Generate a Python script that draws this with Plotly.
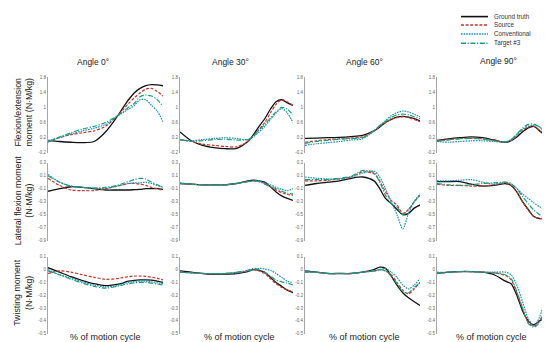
import plotly.graph_objects as go

# ---------------- data ----------------
X = [0, 10, 20, 30, 40, 50, 60, 65, 70, 75, 80, 85, 90, 95, 100]
series_names = ["Ground truth", "Source", "Conventional", "Target #3"]
angles = ["Angle 0°", "Angle 30°", "Angle 60°", "Angle 90°"]

# Row 1: Flexion/extension moment
flex_gt = [
    [0.13, 0.1, 0.08, 0.07, 0.1, 0.35, 0.75, 0.98, 1.2, 1.38, 1.5, 1.57, 1.6, 1.59, 1.57],
    [0.35, 0.12, 0.0, -0.06, -0.09, -0.08, 0.1, 0.28, 0.5, 0.7, 0.95, 1.15, 1.2, 1.12, 1.05],
    [0.18, 0.19, 0.2, 0.21, 0.23, 0.26, 0.38, 0.48, 0.6, 0.68, 0.74, 0.76, 0.74, 0.7, 0.64],
    [0.13, 0.17, 0.2, 0.22, 0.2, 0.14, 0.08, 0.12, 0.22, 0.35, 0.46, 0.5, 0.38, 0.25, 0.15],
]
flex_src = [
    [0.1, 0.2, 0.28, 0.33, 0.38, 0.5, 0.77, 0.93, 1.1, 1.25, 1.38, 1.48, 1.5, 1.42, 1.3],
    [0.15, 0.1, 0.03, 0.0, -0.03, -0.04, 0.1, 0.25, 0.42, 0.6, 0.85, 1.08, 1.2, 1.15, 1.05],
    [0.08, 0.12, 0.15, 0.17, 0.19, 0.22, 0.38, 0.5, 0.6, 0.68, 0.73, 0.75, 0.73, 0.68, 0.62],
    [0.12, 0.15, 0.18, 0.18, 0.17, 0.13, 0.08, 0.13, 0.25, 0.4, 0.48, 0.5, 0.4, 0.28, 0.18],
]
flex_conv = [
    [0.12, 0.2, 0.3, 0.38, 0.45, 0.55, 0.76, 0.86, 0.95, 1.05, 1.2, 1.2, 1.05, 0.9, 0.62],
    [0.15, 0.12, 0.15, 0.18, 0.2, 0.18, 0.15, 0.23, 0.35, 0.5, 0.68, 0.85, 0.97, 0.85, 0.6],
    [0.0, 0.04, 0.07, 0.1, 0.14, 0.17, 0.38, 0.52, 0.65, 0.78, 0.86, 0.9, 0.88, 0.82, 0.75],
    [0.1, 0.08, 0.1, 0.12, 0.12, 0.1, 0.09, 0.15, 0.28, 0.42, 0.5, 0.53, 0.48, 0.35, 0.2],
]
flex_tgt = [
    [0.08, 0.22, 0.33, 0.43, 0.5, 0.6, 0.77, 0.88, 1.0, 1.1, 1.28, 1.32, 1.3, 1.2, 1.03],
    [0.15, 0.1, 0.12, 0.15, 0.16, 0.14, 0.15, 0.25, 0.4, 0.55, 0.72, 0.88, 1.0, 0.95, 0.8],
    [0.05, 0.1, 0.13, 0.16, 0.18, 0.2, 0.38, 0.52, 0.63, 0.73, 0.8, 0.82, 0.8, 0.75, 0.7],
    [0.1, 0.14, 0.17, 0.18, 0.17, 0.12, 0.09, 0.15, 0.3, 0.45, 0.55, 0.56, 0.48, 0.33, 0.2],
]

# Row 2: Lateral flexion moment
lat_gt = [
    [-0.14, -0.1, -0.07, -0.08, -0.1, -0.12, -0.12, -0.12, -0.12, -0.115, -0.11, -0.1, -0.1, -0.1, -0.11],
    [-0.02, -0.03, -0.04, -0.04, -0.04, -0.02, 0.02, 0.03, 0.02, 0.0, -0.07, -0.15, -0.21, -0.25, -0.28],
    [-0.05, -0.02, 0.0, 0.02, 0.06, 0.08, 0.02, -0.1, -0.25, -0.33, -0.42, -0.5, -0.48, -0.4, -0.35],
    [0.01, 0.01, 0.01, -0.03, -0.06, -0.05, -0.02, -0.05, -0.15, -0.3, -0.42, -0.53, -0.56, -0.54, -0.47],
]
lat_src = [
    [0.06, -0.05, -0.12, -0.13, -0.13, -0.1, -0.06, -0.04, -0.02, -0.02, -0.03, -0.05, -0.08, -0.1, -0.13],
    [-0.02, -0.03, -0.04, -0.04, -0.04, -0.02, 0.01, 0.02, 0.01, -0.02, -0.07, -0.12, -0.16, -0.19, -0.2],
    [0.02, 0.02, 0.03, 0.05, 0.08, 0.16, 0.13, 0.02, -0.15, -0.28, -0.35, -0.48, -0.42, -0.3, -0.2],
    [-0.03, -0.05, -0.05, -0.06, -0.06, -0.04, -0.02, -0.05, -0.15, -0.3, -0.43, -0.53, -0.56, -0.55, -0.48],
]
lat_conv = [
    [0.12, 0.0, -0.06, -0.08, -0.09, -0.1, -0.06, -0.04, -0.02, -0.01, -0.01, 0.0, -0.02, -0.05, -0.08],
    [-0.01, -0.03, -0.04, -0.04, -0.04, -0.02, 0.01, 0.02, 0.02, -0.01, -0.04, -0.08, -0.11, -0.13, -0.1],
    [0.08, 0.06, 0.05, 0.05, 0.08, 0.14, 0.17, 0.08, -0.1, -0.3, -0.5, -0.72, -0.48, -0.3, -0.18],
    [0.02, 0.02, 0.03, 0.04, 0.0, -0.03, 0.0, -0.02, -0.1, -0.18, -0.25, -0.32, -0.38, -0.42, -0.43],
]
lat_tgt = [
    [0.1, 0.0, -0.06, -0.08, -0.09, -0.08, -0.05, -0.02, 0.01, 0.04, 0.06, 0.05, 0.0, -0.04, -0.08],
    [-0.02, -0.03, -0.04, -0.04, -0.04, -0.02, 0.01, 0.02, 0.01, -0.03, -0.07, -0.1, -0.14, -0.17, -0.18],
    [0.04, 0.04, 0.04, 0.06, 0.09, 0.18, 0.15, 0.0, -0.2, -0.33, -0.38, -0.5, -0.42, -0.3, -0.2],
    [-0.02, -0.04, -0.05, -0.04, -0.02, -0.01, 0.0, -0.03, -0.1, -0.22, -0.33, -0.43, -0.5, -0.55, -0.55],
]

# Row 3: Twisting moment
tw_gt = [
    [0.015, -0.02, -0.055, -0.085, -0.11, -0.125, -0.115, -0.105, -0.09, -0.083, -0.08, -0.08, -0.082, -0.09, -0.1],
    [-0.01, -0.02, -0.03, -0.035, -0.035, -0.03, -0.015, 0.0, -0.005, -0.02, -0.06, -0.1, -0.13, -0.16, -0.18],
    [-0.01, -0.02, -0.03, -0.03, -0.03, -0.02, 0.0, 0.02, 0.01, -0.05, -0.12, -0.18, -0.22, -0.25, -0.28],
    [-0.03, -0.02, -0.015, -0.015, -0.02, -0.04, -0.09, -0.11, -0.2, -0.32, -0.4, -0.43, -0.4, -0.38, -0.38],
]
tw_src = [
    [-0.03, -0.01, -0.02, -0.04, -0.06, -0.075, -0.07, -0.062, -0.055, -0.05, -0.05, -0.052, -0.058, -0.068, -0.08],
    [-0.02, -0.025, -0.03, -0.03, -0.03, -0.025, -0.01, 0.0, -0.01, -0.03, -0.07, -0.11, -0.14, -0.16, -0.17],
    [-0.02, -0.02, -0.03, -0.03, -0.03, -0.02, -0.01, 0.0, -0.01, -0.04, -0.1, -0.16, -0.19, -0.15, -0.1],
    [-0.03, -0.02, -0.015, -0.015, -0.02, -0.025, -0.045, -0.08, -0.18, -0.3, -0.41, -0.44, -0.4, -0.3, -0.18],
]
tw_conv = [
    [0.0, -0.04, -0.065, -0.095, -0.12, -0.135, -0.125, -0.11, -0.1, -0.092, -0.09, -0.09, -0.095, -0.102, -0.11],
    [-0.02, -0.025, -0.03, -0.03, -0.03, -0.025, -0.01, 0.0, 0.01, 0.005, -0.005, -0.03, -0.06, -0.09, -0.1],
    [-0.01, -0.02, -0.03, -0.03, -0.03, -0.02, -0.01, 0.0, 0.01, -0.02, -0.06, -0.12, -0.15, -0.12, -0.07],
    [-0.02, -0.02, -0.015, -0.015, -0.02, -0.02, -0.02, -0.04, -0.12, -0.25, -0.38, -0.44, -0.37, -0.22, -0.07],
]
tw_tgt = [
    [-0.01, -0.04, -0.075, -0.105, -0.13, -0.145, -0.13, -0.12, -0.11, -0.103, -0.1, -0.1, -0.105, -0.112, -0.12],
    [-0.02, -0.025, -0.03, -0.03, -0.03, -0.02, -0.005, 0.01, 0.0, -0.02, -0.05, -0.08, -0.095, -0.105, -0.12],
    [-0.02, -0.02, -0.03, -0.03, -0.03, -0.02, -0.01, 0.0, -0.01, -0.05, -0.11, -0.17, -0.18, -0.14, -0.1],
    [-0.03, -0.02, -0.015, -0.015, -0.02, -0.025, -0.04, -0.07, -0.17, -0.3, -0.42, -0.45, -0.41, -0.3, -0.17],
]

row_titles = ["Flexion/extension<br>moment (N·M/kg)", "Lateral flexion moment<br>(N·M/kg)", "Twisting moment<br>(N·M/kg)"]
row_ranges = [[-0.2, 1.8], [-0.9, 0.3], [-0.5, 0.1]]
row_ticks = [
    ["-0.2", "0.2", "0.6", "1", "1.4", "1.8"],
    ["-0.9", "-0.7", "-0.5", "-0.3", "-0.1", "0.1", "0.3"],
    ["-0.5", "-0.4", "-0.3", "-0.2", "-0.1", "0", "0.1"],
]
x_title = "% of motion cycle"

# ---------------- styling / layout ----------------
W, H = 550, 342
colors = ["#111111", "#C0392B", "#1F8FB8", "#1E9C78"]
dashes = ["solid", "3px,1.6px", "1.6px,1px", "5px,1.6px,1.2px,1.6px"]
widths = [1.3, 1.2, 1.2, 1.2]

col_px = [(40, 155), (172, 285), (297, 412), (429, 543)]
row_px = [(68, 145), (155, 234), (250.5, 328.5)]

rows_data = [
    [flex_gt, flex_src, flex_conv, flex_tgt],
    [lat_gt, lat_src, lat_conv, lat_tgt],
    [tw_gt, tw_src, tw_conv, tw_tgt],
]

fig = go.Figure()
layout = {}
k = 0
for r in range(3):
    for c in range(4):
        k += 1
        xa = "x" if k == 1 else f"x{k}"
        ya = "y" if k == 1 else f"y{k}"
        for s in range(4):
            fig.add_trace(go.Scatter(
                x=X, y=rows_data[r][s][c], mode="lines", name=series_names[s],
                line=dict(color=colors[s], width=widths[s], dash=dashes[s], shape="spline", smoothing=0.8),
                xaxis=xa, yaxis=ya, showlegend=False, hoverinfo="skip",
            ))
        x0, x1 = col_px[c]
        y0, y1 = row_px[r]
        layout["xaxis" if k == 1 else f"xaxis{k}"] = dict(
            domain=[x0 / W, x1 / W], range=[0, 100], visible=False, anchor=ya,
        )
        vals = [float(t) for t in row_ticks[r]]
        layout["yaxis" if k == 1 else f"yaxis{k}"] = dict(
            domain=[1 - y1 / H, 1 - y0 / H], range=row_ranges[r], anchor=xa,
            showline=True, linecolor="#A6A6A6", linewidth=1, showgrid=False, zeroline=False,
            tickvals=vals, ticktext=row_ticks[r], ticks="",
            tickfont=dict(size=4.5, color="#666666", family="Liberation Sans"),
        )

annotations = []
title_px = [(85, 53), (222, 53), (356, 53), (490, 52)]
for i, a in enumerate(angles):
    annotations.append(dict(text=a, x=title_px[i][0] / W, y=1 - title_px[i][1] / H, xref="paper", yref="paper",
                            xanchor="center", yanchor="middle",
                            showarrow=False, font=dict(size=8.5, color="#222222", family="Liberation Sans")))
rt_y = [104, 193, 287]
for i, t in enumerate(row_titles):
    annotations.append(dict(text=t, x=15 / W, y=1 - rt_y[i] / H, xref="paper", yref="paper", textangle=-90,
                            xanchor="center", yanchor="middle",
                            showarrow=False, font=dict(size=8.8, color="#222222", family="Liberation Sans")))
xt_x = [97, 231, 356, 483]
for xx in xt_x:
    annotations.append(dict(text=x_title, x=xx / W, y=1 - 332 / H, xref="paper", yref="paper",
                            xanchor="center", yanchor="middle",
                            showarrow=False, font=dict(size=9, color="#222222", family="Liberation Sans")))

# legend drawn in the top-right corner
shapes = []
leg_y = [6.7, 15.2, 24.3, 33.7]
for s in range(4):
    shapes.append(dict(type="line", xref="paper", yref="paper", x0=453 / W, x1=480 / W,
                       y0=1 - leg_y[s] / H, y1=1 - leg_y[s] / H,
                       line=dict(color=colors[s], width=widths[s] + 0.3, dash=dashes[s])))
    annotations.append(dict(text=series_names[s], x=486 / W, y=1 - leg_y[s] / H, xref="paper", yref="paper",
                            xanchor="left", yanchor="middle", showarrow=False, borderpad=0, borderwidth=0,
                            font=dict(size=6.3, color="#333333", family="Liberation Sans")))

fig.update_layout(
    width=W, height=H, margin=dict(l=0, r=0, t=0, b=0),
    paper_bgcolor="white", plot_bgcolor="white", showlegend=False,
    annotations=annotations, shapes=shapes, **layout,
)
fig.write_html("out.html")
